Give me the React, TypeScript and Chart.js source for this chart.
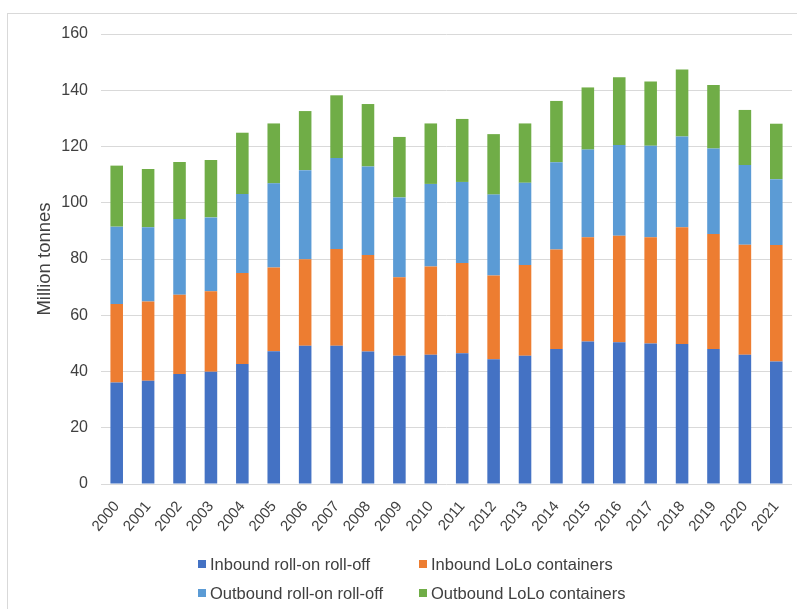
import React, { useEffect, useRef } from "react";
import { Chart, registerables } from "chart.js";

Chart.register(...registerables);

const years = [
  "2000", "2001", "2002", "2003", "2004", "2005", "2006", "2007", "2008", "2009", "2010",
  "2011", "2012", "2013", "2014", "2015", "2016", "2017", "2018", "2019", "2020", "2021",
];

const inboundRoro = [36.1, 36.7, 39.1, 39.9, 42.7, 47.2, 49.2, 49.2, 47.1, 45.6, 46.0, 46.5, 44.4, 45.6, 48.0, 50.7, 50.4, 50.0, 49.8, 48.0, 46.0, 43.6];
const inboundLolo = [27.9, 28.2, 28.2, 28.6, 32.3, 29.8, 30.7, 34.4, 34.3, 27.9, 31.3, 32.1, 29.7, 32.3, 35.4, 37.0, 37.9, 37.7, 41.5, 40.9, 39.1, 41.4];
const outboundRoro = [27.5, 26.4, 26.9, 26.3, 28.1, 29.9, 31.7, 32.3, 31.5, 28.4, 29.4, 28.8, 28.8, 29.2, 31.0, 31.2, 32.2, 32.6, 32.3, 30.4, 28.3, 23.4];
const outboundLolo = [21.7, 20.7, 20.3, 20.4, 21.8, 21.3, 21.0, 22.3, 22.2, 21.5, 21.5, 22.4, 21.5, 21.1, 21.8, 22.1, 24.1, 22.8, 23.8, 22.6, 19.6, 19.7];

const seriesNames = [
  "Inbound roll-on roll-off",
  "Inbound LoLo containers",
  "Outbound roll-on roll-off",
  "Outbound LoLo containers",
];
const seriesColors = ["#4472C4", "#ED7D31", "#5B9BD5", "#70AD47"];

const yMin = 0;
const yMax = 160;
const yStep = 20;
const yTitle = "Million tonnes";

const FONT = "'Liberation Sans', Arial, sans-serif";
const TEXT = "#404040";
const GRID = "#d9d9d9";

export default function App() {
  const canvasRef = useRef<HTMLCanvasElement | null>(null);

  useEffect(() => {
    if (!canvasRef.current) return;
    const values = [inboundRoro, inboundLolo, outboundRoro, outboundLolo];
    const chart = new Chart(canvasRef.current, {
      type: "bar",
      data: {
        labels: years,
        datasets: values.map((v, i) => ({
          label: seriesNames[i],
          data: v,
          backgroundColor: seriesColors[i],
          borderWidth: 0,
          barPercentage: 0.8,
          categoryPercentage: 0.5,
        })),
      },
      options: {
        animation: false,
        responsive: false,
        layout: { padding: { left: 8, top: 34, right: 5, bottom: 65 } },
        plugins: {
          legend: { display: false },
          tooltip: { enabled: false },
        },
        scales: {
          x: {
            stacked: true,
            grid: { display: false },
            border: { display: false },
            ticks: {
              font: { family: FONT, size: 15 },
              color: TEXT,
              maxRotation: 50,
              minRotation: 50,
              padding: 6,
            },
            afterFit: (s: any) => {
              s.height = 60;
            },
          },
          y: {
            stacked: true,
            min: yMin,
            max: yMax,
            ticks: {
              stepSize: yStep,
              font: { family: FONT, size: 16 },
              color: TEXT,
              padding: 13,
            },
            grid: { color: GRID, drawTicks: false, lineWidth: 1 },
            border: { display: false },
            title: {
              display: true,
              text: yTitle,
              font: { family: FONT, size: 18.5 },
              color: TEXT,
              padding: { top: 26, bottom: 0 },
            },
            afterFit: (s: any) => {
              s.width = 93;
            },
          },
        },
      },
    });
    return () => chart.destroy();
  }, []);

  const legendPos = [
    { x: 198, y: 564 },
    { x: 419, y: 564 },
    { x: 198, y: 593 },
    { x: 419, y: 593 },
  ];

  return (
    <div
      style={{
        position: "fixed",
        left: 0,
        top: 0,
        width: 797,
        height: 609,
        overflow: "hidden",
        background: "#fff",
      }}
    >
      <div
        style={{
          position: "absolute",
          left: 7,
          top: 13,
          width: 820,
          height: 640,
          border: `1px solid ${GRID}`,
        }}
      />
      <canvas
        ref={canvasRef}
        width={797}
        height={609}
        style={{ position: "absolute", left: 0, top: 0, width: 797, height: 609 }}
      />
      {seriesNames.map((name, i) => (
        <div
          key={name}
          style={{
            position: "absolute",
            left: legendPos[i].x,
            top: legendPos[i].y - 10,
            height: 20,
            display: "flex",
            alignItems: "center",
            fontFamily: FONT,
            fontSize: 16.5,
            color: TEXT,
            whiteSpace: "nowrap",
          }}
        >
          <span
            style={{
              display: "inline-block",
              width: 8,
              height: 8,
              background: seriesColors[i],
              marginRight: 4,
            }}
          />
          <span>{name}</span>
        </div>
      ))}
    </div>
  );
}
